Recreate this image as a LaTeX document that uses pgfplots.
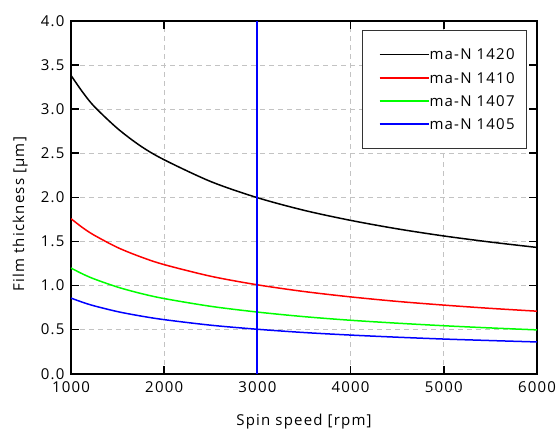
\documentclass[border=0pt]{standalone}
\usepackage{fontspec}
\setmainfont{Open Sans}[LetterSpace=8]
\usepackage{pgfplots}
\pgfplotsset{compat=1.18}
\newcommand\myfont{\fontsize{15bp}{18bp}\selectfont}
\definecolor{pgreen}{RGB}{0,255,0}
\definecolor{pblue}{RGB}{0,0,255}
\definecolor{pred}{RGB}{255,0,0}
\begin{document}
\begin{tikzpicture}
\begin{axis}[
  scale only axis, width=466bp, height=352.7bp,
  xmin=1000, xmax=6000, ymin=0, ymax=4,
  xtick={1000,2000,3000,4000,5000,6000},
  ytick={0,0.5,1,1.5,2,2.5,3,3.5,4},
  /pgf/number format/assume math mode=true,
  xticklabel style={font=\myfont, /pgf/number format/1000 sep={}, yshift=-4bp},
  yticklabel style={font=\myfont, /pgf/number format/fixed, /pgf/number format/fixed zerofill, /pgf/number format/precision=1, xshift=-3bp},
  tick align=inside, major tick length=8bp,
  axis line style={line width=1.6bp, black},
  every tick/.style={line width=1.6bp, black},
  grid=major,
  major grid style={line width=1bp, color={rgb,255:red,195;green,195;blue,195}, dash pattern=on 5bp off 4bp},
  xlabel={Spin speed [rpm]}, ylabel={Film thickness [µm]},
  xlabel style={font=\myfont, at={(axis description cs:0.5,-0.137)}, anchor=center},
  ylabel style={font=\myfont, at={(axis description cs:-0.109,0.452)}, anchor=center},
  legend style={at={(0.9785,0.9745)}, anchor=north east, draw=black!80, line width=0.8bp,
    font=\myfont, inner xsep=12bp, inner ysep=18.5bp, row sep=12.3bp,
    nodes={inner sep=0pt, text height=11bp, text depth=0pt},
    /tikz/every even column/.append style={column sep=6bp}},
  legend cell align=left,
  legend image code/.code={\path (0bp,0bp); \draw[#1, line width=1.7bp] (5bp,0bp) -- (54bp,0bp);},
]
\addplot[black, line width=1.5bp, smooth] coordinates {
(1000,3.383) (1125,3.193) (1250,3.03) (1500,2.78) (1750,2.58) (2000,2.426) (2500,2.179) (3000,1.996)
(3500,1.853) (4000,1.739) (4500,1.643) (5000,1.562) (5500,1.493) (6000,1.432)};
\addlegendentry{ma-N 1420}
\addplot[pred, line width=1.5bp, smooth] coordinates {
(1000,1.758) (1125,1.656) (1250,1.570) (1500,1.431) (1750,1.324) (2000,1.237) (2500,1.105) (3000,1.008)
(3500,0.932) (4000,0.871) (4500,0.820) (5000,0.778) (5500,0.741) (6000,0.709)};
\addlegendentry{ma-N 1410}
\addplot[pgreen, line width=1.5bp, smooth] coordinates {
(1000,1.198) (1125,1.131) (1250,1.074) (1500,0.982) (1750,0.910) (2000,0.852) (2500,0.764) (3000,0.699)
(3500,0.647) (4000,0.606) (4500,0.573) (5000,0.544) (5500,0.519) (6000,0.497)};
\addlegendentry{ma-N 1407}
\addplot[pblue, line width=1.5bp, smooth] coordinates {
(1000,0.857) (1125,0.810) (1250,0.769) (1500,0.704) (1750,0.654) (2000,0.613) (2500,0.550) (3000,0.504)
(3500,0.467) (4000,0.438) (4500,0.414) (5000,0.393) (5500,0.376) (6000,0.360)};
\addlegendentry{ma-N 1405}
\addplot[pblue, line width=1.8bp, forget plot] coordinates {(3000,0) (3000,4)};
\coordinate (O) at (rel axis cs:0,0);
\end{axis}
\pgfresetboundingbox
\path[use as bounding box] (O) ++(-71bp,-57.3bp) rectangle ++(558bp,431bp);
\end{tikzpicture}
\end{document}
